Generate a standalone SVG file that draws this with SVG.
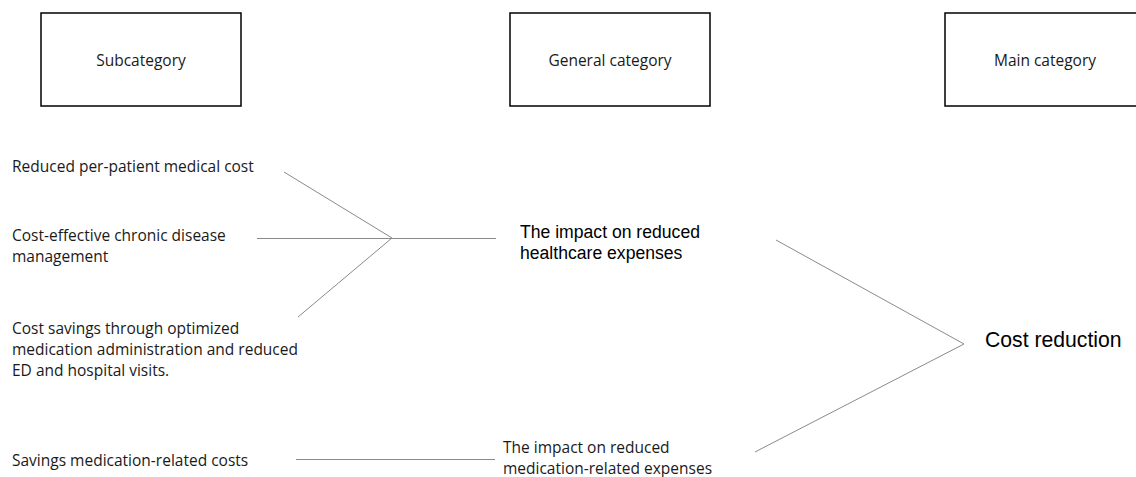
<svg xmlns="http://www.w3.org/2000/svg" width="1136" height="477" viewBox="0 0 1136 477">
  <style>
    .box { fill: #ffffff; stroke: #000000; stroke-width: 1.5; }
    .hdr { font-family: "Open Sans", "Liberation Sans", sans-serif; font-size: 15.5px; fill: #1a1a1a; text-anchor: middle; }
    .lbl { font-family: "Open Sans", "Liberation Sans", sans-serif; font-size: 15.5px; fill: #1a1a1a; }
    .arial { font-family: "Liberation Sans", Arial, sans-serif; fill: #000000; }
    .conn line { stroke: #8a8a8a; stroke-width: 1; fill: none; }
  </style>
  <rect width="1136" height="477" fill="#ffffff"/>

  <!-- column headers -->
  <g id="hdr-subcategory">
    <rect class="box" x="41" y="13" width="200" height="93"/>
    <text class="hdr" x="141" y="66">Subcategory</text>
  </g>
  <g id="hdr-general">
    <rect class="box" x="510" y="13" width="200" height="93"/>
    <text class="hdr" x="610" y="66">General category</text>
  </g>
  <g id="hdr-main">
    <rect class="box" x="945" y="13" width="200" height="93"/>
    <text class="hdr" x="1045" y="66">Main category</text>
  </g>

  <!-- subcategories -->
  <g id="sub-per-patient">
    <text class="lbl" x="12" y="172">Reduced per-patient medical cost</text>
  </g>
  <g id="sub-chronic">
    <text class="lbl" x="12" y="241">Cost-effective chronic disease</text>
    <text class="lbl" x="12" y="262">management</text>
  </g>
  <g id="sub-optimized">
    <text class="lbl" x="12" y="334">Cost savings through optimized</text>
    <text class="lbl" x="12" y="355">medication administration and reduced</text>
    <text class="lbl" x="12" y="376">ED and hospital visits.</text>
  </g>
  <g id="sub-medication">
    <text class="lbl" x="12" y="466">Savings medication-related costs</text>
  </g>

  <!-- general categories -->
  <g id="gen-healthcare">
    <text class="arial" font-size="17.6" x="520" y="238">The impact on reduced</text>
    <text class="arial" font-size="17.6" x="520" y="259">healthcare expenses</text>
  </g>
  <g id="gen-medication">
    <text class="lbl" x="503" y="453">The impact on reduced</text>
    <text class="lbl" x="503" y="474">medication-related expenses</text>
  </g>

  <!-- main category -->
  <g id="main-cost">
    <text class="arial" font-size="21.2" x="985" y="347">Cost reduction</text>
  </g>

  <!-- connectors -->
  <g id="connectors" class="conn">
    <line x1="284" y1="172" x2="392" y2="238"/>
    <line x1="257" y1="238.5" x2="392" y2="238.5"/>
    <line x1="298" y1="317" x2="392" y2="238"/>
    <line x1="392" y1="238.5" x2="496" y2="238.5"/>
    <line x1="776" y1="240" x2="964" y2="344"/>
    <line x1="755" y1="452" x2="964" y2="344"/>
    <line x1="296" y1="459.5" x2="495" y2="459.5"/>
  </g>
</svg>
